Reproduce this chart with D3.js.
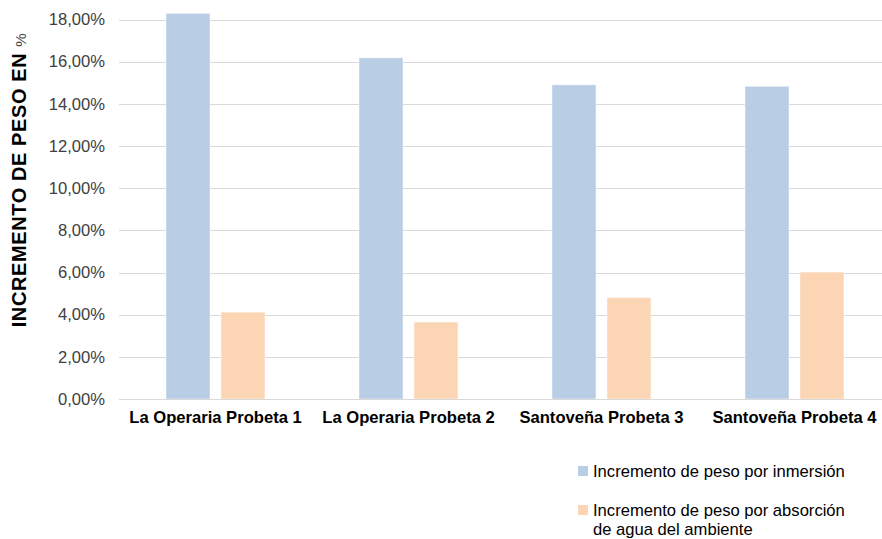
<!DOCTYPE html>
<html><head><meta charset="utf-8">
<script src="https://cdn.jsdelivr.net/npm/d3@7"></script>
<style>body{margin:0;background:#fff}svg{display:block;font-family:"Liberation Sans",Arial,sans-serif}</style>
</head><body><svg id="c" width="882" height="539"></svg>
<script>
const categories = ["La Operaria Probeta 1","La Operaria Probeta 2","Santoveña Probeta 3","Santoveña Probeta 4"];
const seriesNames = ["Incremento de peso por inmersión","Incremento de peso por absorción de agua del ambiente"];
const inmersion = [0.1829, 0.1618, 0.1490, 0.1483];
const absorcion = [0.0412, 0.0365, 0.0481, 0.0602];
const yTicks = [0,0.02,0.04,0.06,0.08,0.10,0.12,0.14,0.16,0.18];
const colors = ["#B9CDE5","#FCD5B5"];

const svg = d3.select("#c");
const L=119, R=891, T=19.5, B=399;
const y = d3.scaleLinear().domain([0,0.18]).range([B,T]);
const x0 = d3.scaleBand().domain(categories).range([L,R]).padding(0);
const x1 = d3.scaleBand().domain([0,1]).range([0,x0.bandwidth()]).paddingInner(0.2).paddingOuter(0.855);
const fmt = v => d3.format(".2f")(v*100).replace(".",",")+"%";

// gridlines
svg.append("g").selectAll("line").data(yTicks).join("line")
  .attr("x1",L).attr("x2",882).attr("y1",d=>Math.round(y(d))+0.5).attr("y2",d=>Math.round(y(d))+0.5)
  .attr("stroke","#d9d9d9").attr("stroke-width",1);

// y axis labels
const ya = svg.append("g").attr("transform",`translate(${L},0)`)
  .call(d3.axisLeft(y).tickValues(yTicks).tickFormat(fmt).tickSize(0).tickPadding(14));
ya.select(".domain").remove();
ya.selectAll("text").attr("font-size",16.6).attr("fill","#404040").attr("font-family","Liberation Sans, Arial, sans-serif");

// bars
const data = categories.map((c,i)=>({c, vals:[inmersion[i],absorcion[i]]}));
const g = svg.append("g").selectAll("g").data(data).join("g").attr("transform",d=>`translate(${x0(d.c)},0)`);
g.selectAll("rect").data(d=>d.vals.map((v,k)=>({v,k}))).join("rect")
  .attr("x",d=>x1(d.k)).attr("width",x1.bandwidth())
  .attr("y",d=>y(d.v)).attr("height",d=>y(0)-y(d.v))
  .attr("fill",d=>colors[d.k]).attr("stroke","#fdfdfd").attr("stroke-opacity",0.5).attr("stroke-width",1);

// x axis
const xa = svg.append("g").attr("transform",`translate(0,${B})`)
  .call(d3.axisBottom(x0).tickSize(0).tickPadding(12));
xa.select(".domain").attr("stroke","#d9d9d9");
xa.selectAll("text").attr("font-size",16.6).attr("font-weight","bold").attr("fill","#000").attr("font-family","Liberation Sans, Arial, sans-serif");

// y title
const yt = svg.append("text").attr("transform","translate(26,180) rotate(-90)")
  .attr("text-anchor","middle").attr("font-size",20).attr("letter-spacing",0.6).attr("font-weight","bold").attr("fill","#000");
yt.append("tspan").text("INCREMENTO DE PESO EN ");
yt.append("tspan").attr("font-weight","normal").attr("font-size",15).attr("fill","#404040").text("%");

// legend
const lg = svg.append("g");
const legendRows = [[seriesNames[0]],["Incremento de peso por absorción","de agua del ambiente"]];
const ly = [471, 510];
legendRows.forEach((lines,k)=>{
  lg.append("rect").attr("x",578).attr("y",ly[k]-5).attr("width",10).attr("height",10).attr("fill",colors[k]);
  lines.forEach((t,j)=>{
    lg.append("text").attr("x",593).attr("y",ly[k]+j*19.5).attr("dy","0.35em").attr("font-size",16.6).attr("fill","#000").text(t);
  });
});
</script></body></html>
